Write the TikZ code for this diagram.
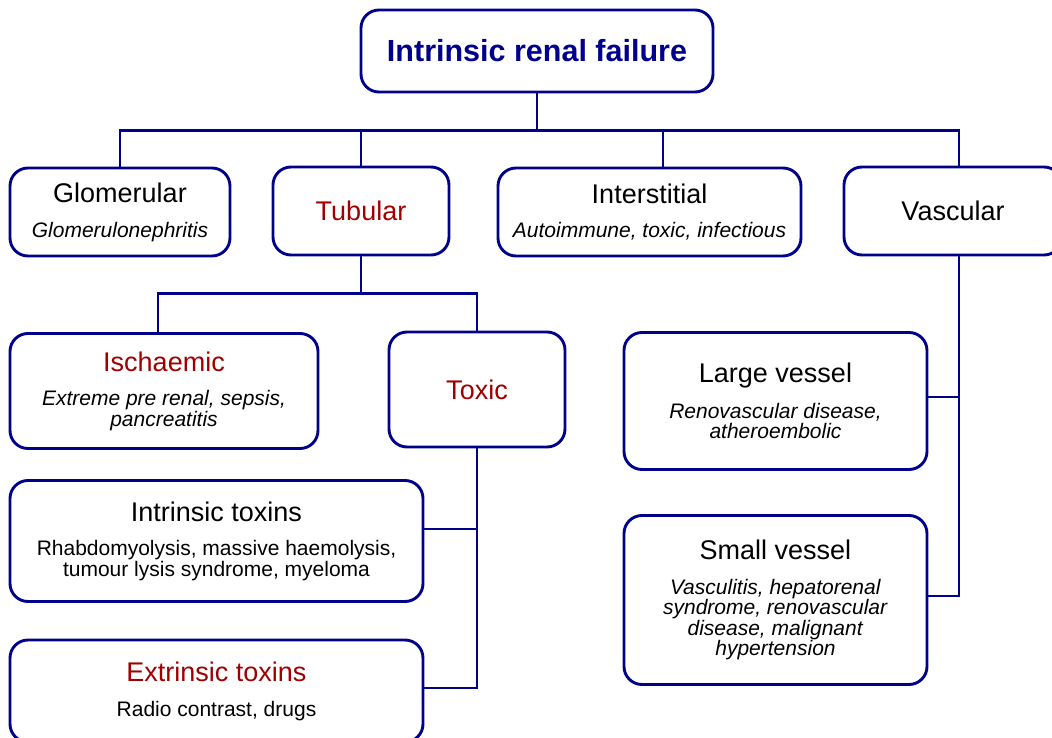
\documentclass[tikz,border=0pt]{standalone}
\usepackage{fontspec}
\setmainfont{Liberation Sans}
\usetikzlibrary{positioning}

\definecolor{navy}{RGB}{0,0,140}
\definecolor{darkred}{RGB}{160,0,0}

% heading line inside a box
\newcommand{\hd}[2][black]{{\color{#1}\fontsize{27}{27}\selectfont #2}}

\begin{document}
\begin{tikzpicture}[x=1pt,y=-1pt,
  box/.style={draw=navy, line width=2.9pt, rounded corners=18pt, fill=white,
    align=center, inner sep=0pt, font=\fontsize{21}{20.3}\selectfont},
  conn/.style={draw=navy, line width=2.9pt, line join=miter}]

\clip (0,0) rectangle (1052,738);
\fill[white] (0,0) rectangle (1052,738);

% top level
\node[box, minimum width=352pt, minimum height=82pt] (title) at (537,51)
  {\color{navy}\bfseries\fontsize{30.5}{30}\selectfont Intrinsic renal failure};

\node[box, minimum width=220pt, minimum height=88pt] (glom) at (120,212)
  {\hd{Glomerular}\\[14.5pt]\textit{Glomerulonephritis}};
\node[box, minimum width=176pt, minimum height=88pt] (tub) at (361,211)
  {\hd[darkred]{Tubular}};
\node[box, minimum width=303pt, minimum height=88pt] (inter) at (649.5,212)
  {\hd{Interstitial}\\[14.5pt]\textit{Autoimmune, toxic, infectious}};
\node[box, minimum width=218pt, minimum height=88pt] (vasc) at (953,211)
  {\hd{Vascular}};

% tubular branch
\node[box, minimum width=308pt, minimum height=115pt] (isch) at (164,391)
  {\hd[darkred]{Ischaemic}\\[14.5pt]\textit{Extreme pre renal, sepsis,}\\\textit{pancreatitis}};
\node[box, minimum width=176pt, minimum height=115pt] (toxic) at (477,389.5)
  {\hd[darkred]{Toxic}};
\node[box, minimum width=413pt, minimum height=121pt] (intr) at (216.5,541)
  {\hd{Intrinsic toxins}\\[14.5pt]Rhabdomyolysis, massive haemolysis,\\tumour lysis syndrome, myeloma};
\node[box, minimum width=413pt, minimum height=102pt] (extr) at (216.5,691)
  {\hd[darkred]{Extrinsic toxins}\\[14.5pt]Radio contrast, drugs};

% vascular branch
\node[box, minimum width=303pt, minimum height=137pt] (large) at (775.5,401)
  {\hd{Large vessel}\\[14.5pt]\textit{Renovascular disease,}\\\textit{atheroembolic}};
\node[box, minimum width=303pt, minimum height=169pt] (small) at (775.5,600)
  {\hd{Small vessel}\\[14.5pt]\textit{Vasculitis, hepatorenal}\\\textit{syndrome, renovascular}\\\textit{disease, malignant}\\\textit{hypertension}};

% connectors: top level
\draw[conn] (title.south) -- ++(0,37) coordinate (hub);
\draw[conn] (glom.north) |- (hub);
\draw[conn] (tub.north) |- (hub);
\draw[conn] ([xshift=13.5pt]inter.north) |- (hub);
\draw[conn] ([xshift=6pt]vasc.north) |- (hub);

% connectors: tubular
\draw[conn] (tub.south) -- ++(0,37) coordinate (tubhub);
\draw[conn] ([xshift=-6pt]isch.north) |- (tubhub);
\draw[conn] (toxic.north) |- (tubhub);
\draw[conn] (toxic.south) |- ([yshift=3pt]extr.east);
\draw[conn] ([yshift=12pt]intr.east) -- ([yshift=12pt]intr.east -| toxic.south);

% connectors: vascular
\coordinate (vdrop) at ([xshift=6pt]vasc.south);
\draw[conn] (vdrop) |- ([yshift=4pt]small.east);
\draw[conn] ([yshift=4pt]large.east) -- ([yshift=4pt]large.east -| vdrop);

\end{tikzpicture}
\end{document}
